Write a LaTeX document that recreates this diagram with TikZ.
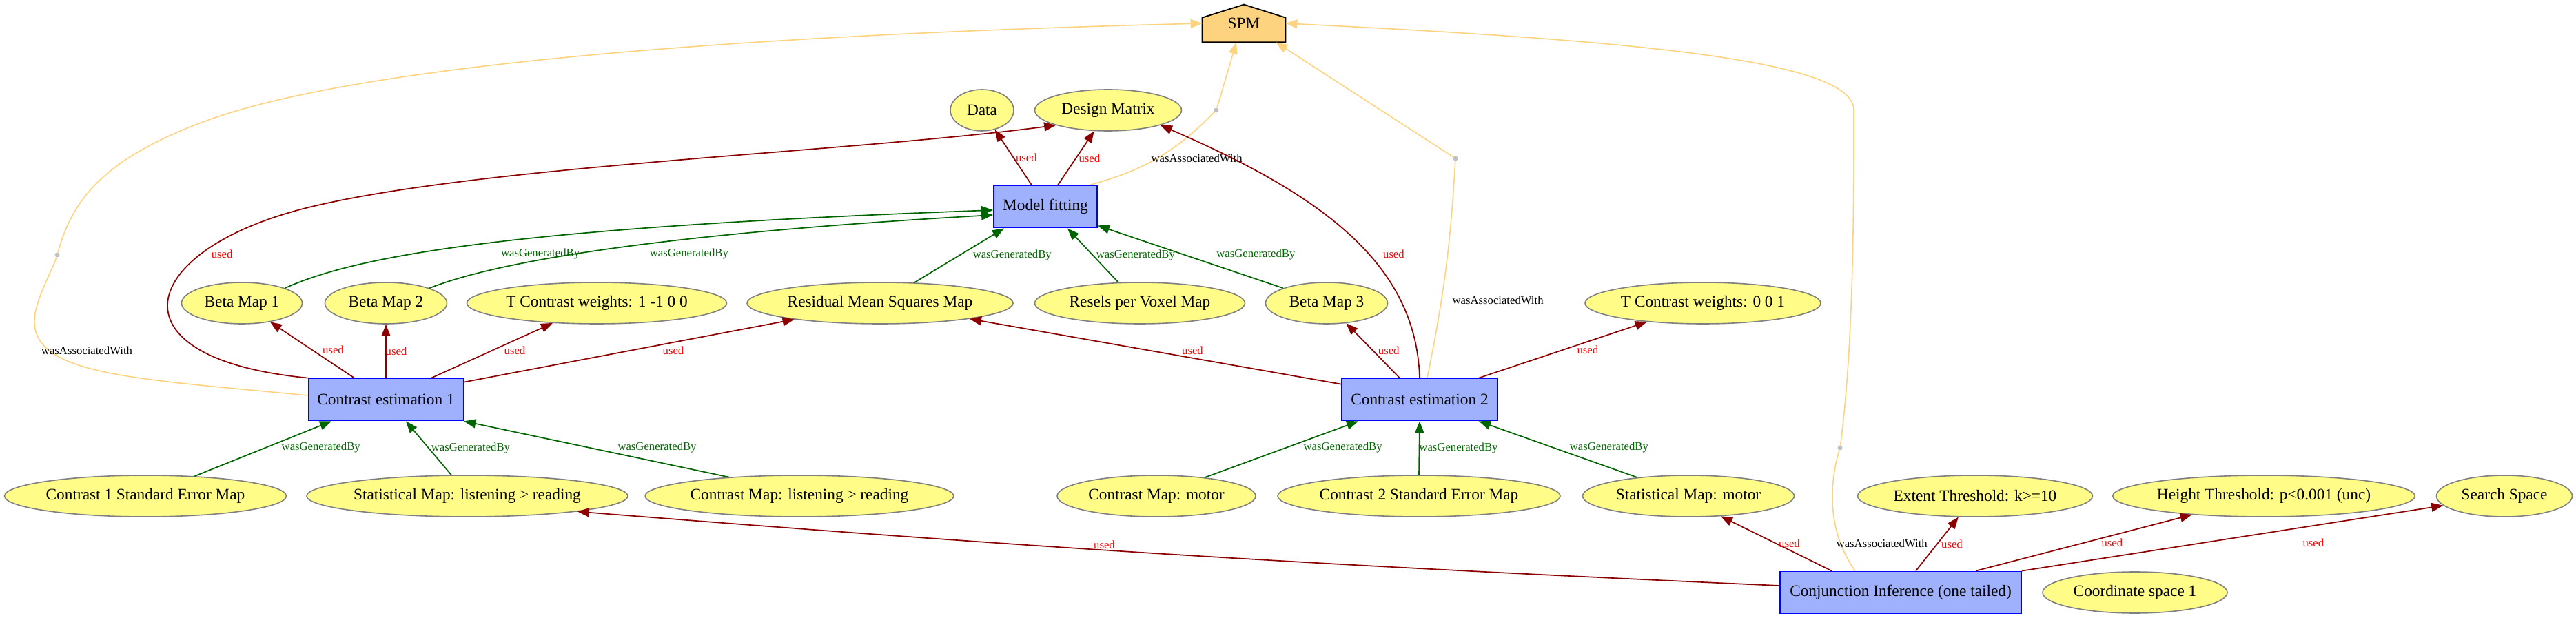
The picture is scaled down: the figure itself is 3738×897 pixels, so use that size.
\documentclass[tikz,border=0pt]{standalone}
\usepackage{fontspec}
\setmainfont{Liberation Serif}
\usepackage{xcolor}
\usepackage{tikz}
\usetikzlibrary{arrows.meta, positioning, shapes.geometric, backgrounds}

\definecolor{entfill}{HTML}{FFFC87}
\definecolor{actfill}{HTML}{9FB1FC}
\definecolor{agtfill}{HTML}{FED37F}
\definecolor{dotgray}{HTML}{C0C0C0}
\definecolor{usedcol}{HTML}{8B0000}
\definecolor{gencol}{HTML}{006400}

\begin{document}
\begin{tikzpicture}[
    x=0.5pt, y=-0.5pt,
    font=\fontsize{11.65}{14}\selectfont,
    ent/.style={ellipse, draw=gray, line width=0.8pt, fill=entfill,
                inner sep=0pt, minimum height=30pt},
    act/.style={draw=blue, line width=0.9pt, fill=actfill, inner sep=0pt,
                minimum height=30.5pt},
    agt/.style={inner sep=0pt, minimum width=60pt, minimum height=27pt},
    pdot/.style={circle, fill=dotgray, inner sep=0pt, minimum size=3.5pt},
    lbl/.style={font=\fontsize{8.35}{10}\selectfont, inner sep=0pt},
    usedlbl/.style={lbl, text=red},
    genlbl/.style={lbl, text=gencol},
    assoclbl/.style={lbl, text=black},
    tip/.style={-{Triangle[length=8.5pt, width=6.5pt]}},
    usedarr/.style={tip, draw=usedcol, line width=0.85pt},
    genarr/.style={tip, draw=gencol, line width=0.85pt},
    assocarr/.style={draw=agtfill, line width=0.8pt},
]
\useasboundingbox (0,0) rectangle (3738,897);

% Agent
\node[agt] (spm) at (1805,34) {SPM};
\begin{scope}[on background layer]
\draw[fill=agtfill, line width=0.9pt] (spm.south west) -- (spm.south east)
    -- ([yshift=-9.5pt]spm.north east) -- (spm.north)
    -- ([yshift=-9.5pt]spm.north west) -- cycle;
\end{scope}

% Entities and activities
\node[ent, minimum width=46pt] (data) at (1425,160) {Data};
\node[ent, minimum width=106.5pt] (design) at (1608,160) {Design Matrix};
\node[act, minimum width=75pt] (mf) at (1517,300) {Model fitting};

\node[ent, minimum width=87.5pt] (beta1) at (351,440) {Beta Map 1};
\node[ent, minimum width=88.5pt] (beta2) at (560,440) {Beta Map 2};
\node[ent, minimum width=188.5pt] (tcon1) at (866,440) {T Contrast weights: 1 -1 0 0};
\node[ent, minimum width=193pt] (resid) at (1277,440) {Residual Mean Squares Map};
\node[ent, minimum width=152.5pt] (resels) at (1654,440) {Resels per Voxel Map};
\node[ent, minimum width=88.5pt] (beta3) at (1925,440) {Beta Map 3};
\node[ent, minimum width=171pt] (tcon2) at (2471,440) {T Contrast weights: 0 0 1};

\node[act, minimum width=112.5pt] (ce1) at (560,580) {Contrast estimation 1};
\node[act, minimum width=113pt] (ce2) at (2060,580) {Contrast estimation 2};

\node[ent, minimum width=204.5pt] (c1se) at (211,720) {Contrast 1 Standard Error Map};
\node[ent, minimum width=230pt] (stat1) at (678,720) {Statistical Map: listening > reading};
\node[ent, minimum width=222.5pt] (con1) at (1160,720) {Contrast Map: listening > reading};
\node[ent, minimum width=144pt] (con2) at (1678,720) {Contrast Map: motor};
\node[ent, minimum width=205pt] (c2se) at (2059,720) {Contrast 2 Standard Error Map};
\node[ent, minimum width=153.5pt] (stat2) at (2450,720) {Statistical Map: motor};
\node[ent, minimum width=170.5pt] (extent) at (2866,720) {Extent Threshold: k>=10};
\node[ent, minimum width=218.5pt] (height) at (3285,720) {Height Threshold: p<0.001 (unc)};
\node[ent, minimum width=98.5pt] (search) at (3634,720) {Search Space};

\node[act, minimum width=175pt] (ci) at (2758,860) {Conjunction Inference (one tailed)};
\node[ent, minimum width=134pt] (coord) at (3098,860) {Coordinate space 1};

% Association points
\node[pdot] (dotmf) at (1765,160) {};
\node[pdot] (dotce1) at (83,370) {};
\node[pdot] (dotce2) at (2112,230) {};
\node[pdot] (dotci) at (2670,650) {};

% Model fitting
\draw[usedarr] ([xshift=-10pt]mf.north) -- (data) node[usedlbl, midway, xshift=9.5pt] {used};
\draw[usedarr] ([xshift=9pt]mf.north) -- (design) node[usedlbl, midway, xshift=9.75pt] {used};
\draw[assocarr] ([xshift=-6pt]mf.north east) to[bend right=15]
    node[assoclbl, midway, xshift=28.5pt] {wasAssociatedWith} (dotmf);
\draw[assocarr, tip] (dotmf) -- ([xshift=-5.5pt]spm.south);
\draw[genarr] (beta1.north east) .. controls (520,370) and (750,330) .. ([yshift=-2.5pt]mf.west)
    node[genlbl, pos=0.5, xshift=38pt, yshift=-8pt] {wasGeneratedBy};
\draw[genarr] (beta2.north east) .. controls (720,380) and (950,340) .. ([yshift=-6pt]mf.west)
    node[genlbl, pos=0.6, xshift=15.5pt, yshift=-9.25pt] {wasGeneratedBy};
\draw[genarr] (resid.31) -- ([xshift=-30pt]mf.south) node[genlbl, midway, xshift=38.5pt] {wasGeneratedBy};
\draw[genarr] (resels.136) -- ([xshift=16pt]mf.south) node[genlbl, midway, xshift=31pt] {wasGeneratedBy};
\draw[genarr] (beta3.north west) -- ([yshift=2pt]mf.south east)
    node[genlbl, midway, xshift=47.5pt, yshift=1.75pt] {wasGeneratedBy};

% Contrast estimation 1
\draw[usedarr] ([xshift=-23pt]ce1.north) -- (beta1) node[usedlbl, midway, xshift=15.25pt] {used};
\draw[usedarr] (ce1.north) -- (beta2.south) node[usedlbl, midway, xshift=7.5pt] {used};
\draw[usedarr] ([xshift=33pt]ce1.north) -- (tcon1) node[usedlbl, midway, xshift=16.5pt] {used};
\draw[usedarr] ([yshift=-3pt]ce1.north east) -- (resid) node[usedlbl, midway, xshift=32pt] {used};
\draw[usedarr] (ce1.north west) .. controls (150,520) and (200,360) .. (452,300)
    node[usedlbl, pos=0.75, xshift=9.5pt, yshift=-4.5pt] {used}
    .. controls (702,240) and (1233,221) .. (design.south west);
\draw[assocarr] ([yshift=3pt]ce1.west) .. controls (200,550) and (55,545) .. (50,470)
    node[assoclbl, pos=0.75, xshift=23.3pt, yshift=2.8pt] {wasAssociatedWith}
    .. controls (48,440) and (75,395) .. (dotce1);
\draw[assocarr, tip] (dotce1) .. controls (105,290) and (150,230) .. (300,175)
    .. controls (570,76) and (1300,45) .. (spm.west);
\draw[genarr] (c1se.22) -- ([xshift=-39.5pt]ce1.south)
    node[genlbl, midway, xshift=42pt, yshift=1pt] {wasGeneratedBy};
\draw[genarr] (stat1.127) -- ([xshift=14.5pt]ce1.south) node[genlbl, midway, xshift=30.5pt] {wasGeneratedBy};
\draw[genarr] (con1.165) -- (ce1.south east) node[genlbl, midway, xshift=44pt, yshift=1.25pt] {wasGeneratedBy};

% Contrast estimation 2
\draw[usedarr] ([yshift=-4.5pt]ce2.north west) -- (resid) node[usedlbl, pos=0.4, yshift=5.4pt] {used};
\draw[usedarr] ([xshift=-14.5pt]ce2.north) -- (beta3) node[usedlbl, midway, xshift=11.5pt] {used};
\draw[usedarr] ([xshift=43pt]ce2.north) -- (tcon2) node[usedlbl, midway, xshift=18pt] {used};
\draw[usedarr] (ce2.north) .. controls (2055,380) and (1913,281) .. (design.south east)
    node[usedlbl, pos=0.4, xshift=15.5pt, yshift=3pt] {used};
\draw[assocarr] ([xshift=5.5pt]ce2.north) to[bend right=4]
    node[assoclbl, pos=0.35, xshift=41pt] {wasAssociatedWith} (dotce2);
\draw[assocarr, tip] (dotce2) -- ([xshift=-7pt]spm.south east);
\draw[genarr] (con2.21) -- ([xshift=-44.5pt]ce2.south)
    node[genlbl, midway, xshift=44.5pt, yshift=1.5pt] {wasGeneratedBy};
\draw[genarr] (c2se.north) -- (ce2.south) node[genlbl, midway, xshift=28.5pt] {wasGeneratedBy};
\draw[genarr] (stat2.160) -- ([xshift=-14pt]ce2.south east)
    node[genlbl, midway, xshift=37pt, yshift=1.5pt] {wasGeneratedBy};

% Conjunction inference
\draw[usedarr] ([yshift=5pt]ci.west) to[bend left=1] node[usedlbl, pos=0.567, yshift=4pt] {used} (stat1.-8);
\draw[usedarr] ([xshift=-50pt]ci.north) -- (stat2.-32) node[usedlbl, midway, xshift=9.5pt] {used};
\draw[usedarr] ([xshift=11pt]ci.north) -- (extent) node[usedlbl, midway, xshift=10.75pt] {used};
\draw[usedarr] ([xshift=54.5pt]ci.north) -- (height) node[usedlbl, midway, xshift=20.5pt] {used};
\draw[usedarr] (ci.north east) -- (search) node[usedlbl, pos=0.7, xshift=-2.5pt, yshift=-13pt] {used};
\draw[assocarr] ([xshift=-33pt]ci.north) .. controls (2650,770) and (2655,700) .. (dotci)
    node[assoclbl, pos=0.25, xshift=31pt, yshift=-2.7pt] {wasAssociatedWith};
\draw[assocarr, tip] (dotci) .. controls (2690,500) and (2690,300) .. (2690,160)
    .. controls (2690,90) and (2400,60) .. (spm.east);
\end{tikzpicture}
\end{document}
